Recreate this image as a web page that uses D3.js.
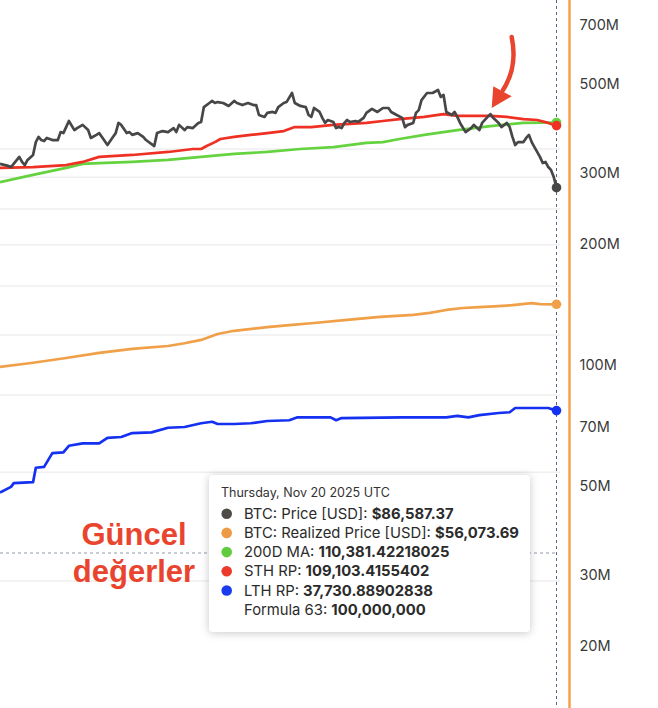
<!DOCTYPE html>
<html>
<head>
<meta charset="utf-8">
<script src="https://cdn.jsdelivr.net/npm/d3@7"></script>
<style>
  html, body { margin: 0; padding: 0; background: #fff; }
  svg { display: block; }
  .tick text { font-family: Inter, "Noto Sans", sans-serif; font-size: 14.5px; fill: #3a3a3a; }
</style>
</head>
<body>
<div id="chart"></div>
<script>
const svgWidth = 658;
const svgHeight = 708;

// BTC price [USD]
const priceSeries = [
  ["2025-05-02", 94600], ["2025-05-05", 93900], ["2025-05-06", 93500], ["2025-05-09", 97100],
  ["2025-05-10", 95300], ["2025-05-11", 94200], ["2025-05-12", 96000], ["2025-05-14", 97800],
  ["2025-05-15", 102600], ["2025-05-16", 104600], ["2025-05-17", 103400], ["2025-05-18", 103000],
  ["2025-05-19", 104200], ["2025-05-21", 103400], ["2025-05-23", 103400], ["2025-05-24", 106500],
  ["2025-05-25", 106100], ["2025-05-26", 108500], ["2025-05-27", 111000], ["2025-05-29", 107300],
  ["2025-05-30", 108100], ["2025-06-01", 109400], ["2025-06-03", 107300], ["2025-06-04", 104200],
  ["2025-06-06", 105400], ["2025-06-07", 106100], ["2025-06-08", 104600], ["2025-06-10", 101500],
  ["2025-06-12", 104600], ["2025-06-13", 106100], ["2025-06-14", 110200], ["2025-06-15", 109400],
  ["2025-06-17", 106100], ["2025-06-18", 106500], ["2025-06-19", 105400], ["2025-06-21", 106100],
  ["2025-06-23", 104600], ["2025-06-24", 103400], ["2025-06-27", 101100], ["2025-06-28", 106100],
  ["2025-06-30", 106900], ["2025-07-02", 106500], ["2025-07-04", 108100], ["2025-07-05", 106500],
  ["2025-07-06", 109400], ["2025-07-08", 107300], ["2025-07-09", 108500], ["2025-07-11", 108100],
  ["2025-07-13", 110200], ["2025-07-14", 110600], ["2025-07-15", 116900], ["2025-07-17", 118700],
  ["2025-07-18", 119600], ["2025-07-19", 118700], ["2025-07-20", 119100], ["2025-07-22", 118700],
  ["2025-07-24", 117400], ["2025-07-26", 119600], ["2025-07-27", 118700], ["2025-07-29", 117800],
  ["2025-07-31", 118700], ["2025-08-02", 117800], ["2025-08-03", 117800], ["2025-08-04", 113500],
  ["2025-08-06", 112700], ["2025-08-07", 114400], ["2025-08-09", 114800], ["2025-08-10", 114400],
  ["2025-08-11", 116900], ["2025-08-13", 118700], ["2025-08-14", 119100], ["2025-08-16", 123200],
  ["2025-08-17", 118700], ["2025-08-19", 117400], ["2025-08-21", 116900], ["2025-08-22", 113500],
  ["2025-08-23", 112700], ["2025-08-24", 116500], ["2025-08-26", 114800], ["2025-08-27", 112300],
  ["2025-08-28", 110200], ["2025-08-29", 111400], ["2025-08-31", 110600], ["2025-09-01", 108100],
  ["2025-09-02", 108500], ["2025-09-03", 108100], ["2025-09-04", 110200], ["2025-09-05", 111400],
  ["2025-09-06", 110600], ["2025-09-08", 111000], ["2025-09-09", 110600], ["2025-09-11", 112300],
  ["2025-09-12", 114400], ["2025-09-14", 116100], ["2025-09-16", 114800], ["2025-09-18", 116500],
  ["2025-09-20", 116500], ["2025-09-21", 114800], ["2025-09-23", 113500], ["2025-09-25", 112300],
  ["2025-09-26", 108500], ["2025-09-27", 109400], ["2025-09-29", 110200], ["2025-09-30", 114400],
  ["2025-10-01", 115600], ["2025-10-02", 120000], ["2025-10-04", 123200], ["2025-10-06", 123200],
  ["2025-10-08", 124600], ["2025-10-09", 121400], ["2025-10-10", 122300], ["2025-10-11", 114800],
  ["2025-10-13", 113500], ["2025-10-14", 114800], ["2025-10-15", 112700], ["2025-10-16", 110200],
  ["2025-10-18", 106500], ["2025-10-20", 108100], ["2025-10-21", 109400], ["2025-10-23", 107300],
  ["2025-10-24", 110200], ["2025-10-26", 112700], ["2025-10-27", 113900], ["2025-10-28", 112300],
  ["2025-10-30", 110200], ["2025-10-31", 108500], ["2025-11-02", 110200], ["2025-11-03", 108500],
  ["2025-11-04", 104600], ["2025-11-05", 101500], ["2025-11-06", 102600], ["2025-11-08", 102600],
  ["2025-11-09", 104200], ["2025-11-10", 105400], ["2025-11-11", 102600], ["2025-11-12", 100700],
  ["2025-11-14", 97100], ["2025-11-15", 94900], ["2025-11-16", 95300], ["2025-11-17", 93500],
  ["2025-11-18", 92500], ["2025-11-19", 90100], ["2025-11-20", 86587.37]
];

// BTC realized price [USD]
const realizedSeries = [
  ["2025-05-02", 44400], ["2025-05-14", 45100], ["2025-05-26", 45900], ["2025-06-07", 46800],
  ["2025-06-19", 47500], ["2025-07-02", 48000], ["2025-07-08", 48500], ["2025-07-14", 49100],
  ["2025-07-20", 50200], ["2025-07-26", 50800], ["2025-08-07", 51500], ["2025-08-15", 51900],
  ["2025-08-24", 52300], ["2025-09-05", 52900], ["2025-09-17", 53500], ["2025-09-29", 53900],
  ["2025-10-05", 54300], ["2025-10-11", 54900], ["2025-10-17", 55300], ["2025-10-23", 55500],
  ["2025-10-30", 55700], ["2025-11-04", 55900], ["2025-11-11", 56300], ["2025-11-14", 56100],
  ["2025-11-20", 56073.69]
];

// 200D MA
const ma200Series = [
  ["2025-05-02", 88400], ["2025-05-14", 90800], ["2025-05-26", 93200], ["2025-06-01", 94600],
  ["2025-06-07", 94900], ["2025-06-19", 95300], ["2025-07-02", 96000], ["2025-07-14", 97100],
  ["2025-07-26", 98200], ["2025-08-07", 98900], ["2025-08-19", 100000], ["2025-08-31", 100700],
  ["2025-09-12", 102300], ["2025-09-18", 102600], ["2025-09-24", 103800], ["2025-10-03", 105400],
  ["2025-10-15", 107300], ["2025-10-27", 108900], ["2025-11-08", 110200], ["2025-11-20", 110381.42]
];

// STH realized price
const sthSeries = [
  ["2025-05-02", 93200], ["2025-05-14", 93500], ["2025-05-26", 94200], ["2025-06-01", 95300],
  ["2025-06-07", 97100], ["2025-06-19", 97800], ["2025-07-02", 98900], ["2025-07-11", 100000],
  ["2025-07-14", 100000], ["2025-07-16", 101100], ["2025-07-19", 102600], ["2025-07-21", 103800],
  ["2025-07-26", 104600], ["2025-08-01", 105400], ["2025-08-07", 106100], ["2025-08-13", 106900],
  ["2025-08-17", 108500], ["2025-08-23", 108500], ["2025-08-31", 109400], ["2025-09-06", 109800],
  ["2025-09-12", 110200], ["2025-09-18", 111000], ["2025-09-24", 111800], ["2025-10-03", 112700],
  ["2025-10-10", 113900], ["2025-10-15", 113100], ["2025-10-27", 113100], ["2025-11-02", 112700],
  ["2025-11-08", 111800], ["2025-11-13", 111400], ["2025-11-17", 110200], ["2025-11-20", 109103.42]
];

// LTH realized price
const lthSeries = [
  ["2025-05-02", 27800], ["2025-05-06", 28400], ["2025-05-07", 28800], ["2025-05-14", 28900],
  ["2025-05-15", 30500], ["2025-05-18", 30600], ["2025-05-21", 32200], ["2025-05-25", 32300],
  ["2025-05-27", 33100], ["2025-06-01", 33400], ["2025-06-07", 33400], ["2025-06-10", 34100],
  ["2025-06-15", 34200], ["2025-06-19", 34700], ["2025-06-26", 34800], ["2025-07-02", 35400],
  ["2025-07-08", 35500], ["2025-07-14", 36000], ["2025-07-18", 36200], ["2025-07-20", 35900],
  ["2025-07-26", 35900], ["2025-08-01", 36000], ["2025-08-07", 36300], ["2025-08-15", 36400],
  ["2025-08-18", 36800], ["2025-08-30", 36800], ["2025-09-01", 36400], ["2025-09-03", 36700],
  ["2025-09-25", 36800], ["2025-10-11", 36800], ["2025-10-15", 37000], ["2025-10-19", 36800],
  ["2025-10-23", 37100], ["2025-10-30", 37400], ["2025-11-03", 37500], ["2025-11-05", 38100],
  ["2025-11-17", 38100], ["2025-11-20", 37730.89]
];

const gridValues = [20000, 30000, 40000, 50000, 60000, 70000, 80000, 90000, 100000];
const rightTicks = [2e7, 3e7, 5e7, 7e7, 1e8, 2e8, 3e8, 5e8, 7e8];

const tooltipDate = "Thursday, Nov 20 2025 UTC";
const tooltipLabels = ["BTC: Price [USD]: ", "BTC: Realized Price [USD]: ", "200D MA: ", "STH RP: ", "LTH RP: ", "Formula 63: "];
const tooltipValues = ["$86,587.37", "$56,073.69", "110,381.42218025", "109,103.4155402", "37,730.88902838", "100,000,000"];
const tooltipColors = ["#4f4c47", "#ee9a45", "#62cc3f", "#ec3a2b", "#1b3bee", null];

const parse = d3.utcParse("%Y-%m-%d");

const x = d3.scaleUtc()
    .domain([parse("2025-05-02"), parse("2025-11-20")])
    .range([0, 556.5]);

const y = d3.scaleLog()
    .domain([20000, 100000])
    .range([581, 149]);

const yRight = d3.scaleLog()
    .domain([2e7, 1e8])
    .range([646, 365]);

const svg = d3.select("#chart")
    .append("svg")
    .attr("width", svgWidth)
    .attr("height", svgHeight);

// gridlines
svg.append("g")
    .selectAll("line")
    .data(gridValues)
    .join("line")
    .attr("x1", 0)
    .attr("x2", 560)
    .attr("y1", d => y(d))
    .attr("y2", d => y(d))
    .attr("stroke", "#efefef")
    .attr("stroke-width", 1.5);

const lastDate = parse("2025-11-20");

// crosshair
svg.append("line")
    .attr("x1", 0).attr("x2", x(lastDate))
    .attr("y1", 553).attr("y2", 553)
    .attr("stroke", "#8f9ba7")
    .attr("stroke-dasharray", "3,3");

svg.append("line")
    .attr("x1", x(lastDate)).attr("x2", x(lastDate))
    .attr("y1", 0).attr("y2", svgHeight)
    .attr("stroke", "#56687a")
    .attr("stroke-dasharray", "3,3");

// right axis
const axisG = svg.append("g")
    .attr("transform", "translate(569.5,0)")
    .call(d3.axisRight(yRight)
        .tickValues(rightTicks)
        .tickFormat(d => `${d / 1e6}M`)
        .tickSize(0)
        .tickPadding(10));
axisG.select(".domain").remove();

svg.append("line")
    .attr("x1", 569.5).attr("x2", 569.5)
    .attr("y1", 0).attr("y2", svgHeight)
    .attr("stroke", "#f4a04c")
    .attr("stroke-width", 2.5);

// series
const line = d3.line()
    .x(d => x(parse(d[0])))
    .y(d => y(d[1]));

const series = [
    { data: realizedSeries, color: "#f0a048" },
    { data: lthSeries, color: "#1430f0" },
    { data: ma200Series, color: "#65d33f" },
    { data: sthSeries, color: "#ef3124" },
    { data: priceSeries, color: "#474747" }
];

svg.append("g")
    .selectAll("path")
    .data(series)
    .join("path")
    .attr("d", d => line(d.data))
    .attr("fill", "none")
    .attr("stroke", d => d.color)
    .attr("stroke-width", 2.7)
    .attr("stroke-linejoin", "round");

// end dots
svg.append("g")
    .selectAll("circle")
    .data(series)
    .join("circle")
    .attr("cx", d => x(parse(d.data[d.data.length - 1][0])))
    .attr("cy", d => y(d.data[d.data.length - 1][1]))
    .attr("r", 4.8)
    .attr("fill", d => d.color);

// tooltip
const tip = svg.append("g")
    .attr("transform", "translate(209,475)");

tip.append("rect")
    .attr("width", 321)
    .attr("height", 157)
    .attr("rx", 4)
    .attr("fill", "#fff")
    .style("filter", "drop-shadow(0px 1px 4px rgba(0,0,0,0.22))");

tip.append("text")
    .attr("x", 12)
    .attr("y", 22)
    .style("font-family", "Inter, sans-serif")
    .style("font-size", "12.5px")
    .style("fill", "#333")
    .text(tooltipDate);

const rows = tip.selectAll("g.row")
    .data(tooltipLabels)
    .join("g")
    .attr("class", "row")
    .attr("transform", (_d, i) => `translate(0,${43.7 + i * 19.2})`);

rows.filter((_d, i) => tooltipColors[i])
    .append("circle")
    .attr("cx", 17.7)
    .attr("cy", -5)
    .attr("r", 5.3)
    .attr("fill", d => tooltipColors[tooltipLabels.indexOf(d)]);

const rowText = rows.append("text")
    .attr("x", 35)
    .style("font-family", "Inter, sans-serif")
    .style("font-size", "14.8px")
    .style("fill", "#2b2b2b");
rowText.append("tspan").text(d => d);
rowText.append("tspan")
    .style("font-weight", "bold")
    .text((_d, i) => tooltipValues[i]);

// annotation
const note = svg.append("g")
    .style("font-family", "'Liberation Sans', Arial, sans-serif")
    .style("font-weight", "bold")
    .style("font-size", "31px")
    .style("fill", "#e9452e")
    .attr("text-anchor", "middle");
note.append("text").attr("x", 134).attr("y", 545).text("Güncel");
note.append("text").attr("x", 134).attr("y", 582).text("değerler");

svg.append("path")
    .attr("d", "M511.7,37 C515.5,55 514.5,72 503,90")
    .attr("fill", "none")
    .attr("stroke", "#e9452e")
    .attr("stroke-width", 4.5)
    .attr("stroke-linecap", "round");

svg.append("path")
    .attr("d", "M491.7,108 L493.3,86.3 L511.7,96.3 Z")
    .attr("fill", "#e9452e");
</script>
</body>
</html>
